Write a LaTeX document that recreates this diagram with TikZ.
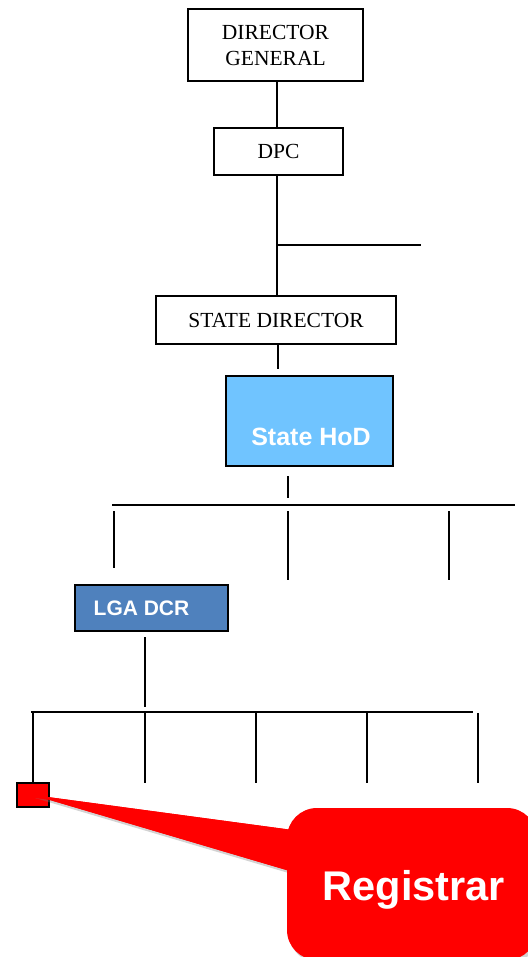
\documentclass[tikz,border=0pt]{standalone}
\usepackage{fontspec}
\setmainfont{Liberation Serif}
\newfontfamily\arialfont{Liberation Sans}
\usetikzlibrary{shadows}
\definecolor{hodblue}{HTML}{70C4FF}
\definecolor{lgablue}{HTML}{4F81BD}
\definecolor{callred}{HTML}{FF0000}
\begin{document}
\begin{tikzpicture}[x=1pt,y=-1pt,
  conn/.style={line width=1.6pt,black},
  tbox/.style={draw,line width=1.6pt,fill=white,inner sep=0pt,font=\fontsize{21.5}{26}\selectfont,align=center}]
\useasboundingbox (0,0) rectangle (527,957);
% top boxes
\node[tbox,minimum width=175pt,minimum height=72pt] (dg) at (275.5,45) {DIRECTOR\\GENERAL};
\node[tbox,minimum width=129pt,minimum height=47pt] (dpc) at (278.5,151.5) {DPC};
\node[tbox,minimum width=240pt,minimum height=48pt] (sd) at (276,320) {STATE DIRECTOR};
\draw[conn] (277,81) -- (277,128);
\coordinate (br) at (277,245);
\coordinate (brR) at (421,245);
\draw[conn] (277,175) -- (277,296);
\draw[conn] (br) -- (brR);
\coordinate (sdb) at (278,344);
\coordinate (sdc) at (278,369);
\draw[conn] (sdb) -- (sdc);
% State HoD
\node[draw,line width=2.2pt,fill=hodblue,minimum width=167pt,minimum height=90pt,inner sep=0pt] (hod) at (309.5,421) {};
\node[text=white,font=\arialfont\bfseries\fontsize{25}{27}\selectfont,inner sep=0pt] (hodt) at (311,437) {State HoD};
% level 2 bar
\coordinate (h1) at (288,476);
\coordinate (h2) at (288,498);
\draw[conn] (h1) -- (h2);
\coordinate (b1L) at (112,505);
\coordinate (b1R) at (515,505);
\draw[conn] (b1L) -- (b1R);
\coordinate (v1a) at (114,511); \coordinate (v1b) at (114,568);
\coordinate (v2a) at (288,511); \coordinate (v2b) at (288,580);
\coordinate (v3a) at (449,511); \coordinate (v3b) at (449,580);
\draw[conn] (v1a) -- (v1b);
\draw[conn] (v2a) -- (v2b);
\draw[conn] (v3a) -- (v3b);
% LGA DCR
\node[draw,line width=1.6pt,fill=lgablue,minimum width=153pt,minimum height=46pt,inner sep=0pt] (lga) at (151.5,608) {};
\node[text=white,font=\arialfont\bfseries\fontsize{21}{23}\selectfont,inner sep=0pt] (lgat) at (141.5,608) {LGA DCR};
\coordinate (l1) at (145,637);
\coordinate (l2) at (145,707);
\draw[conn] (l1) -- (l2);
\coordinate (b2L) at (31,712);
\coordinate (b2R) at (473,712);
\draw[conn] (b2L) -- (b2R);
\foreach \x/\n in {33/a,145/b,256/c,367/d,478/e}{
  \coordinate (t\n) at (\x,713);
  \coordinate (u\n) at (\x,783);
  \draw[conn] (t\n) -- (u\n);
}
% registrar small box
\node[draw,line width=1.6pt,fill=callred,minimum width=32pt,minimum height=24pt,inner sep=0pt] (reg) at (33,795) {};
% callout
\fill[callred,drop shadow={shadow xshift=2pt,shadow yshift=-3pt,opacity=0.35}]
  (reg.center) -- (300,831) -- (300,874) -- cycle;
\node[fill=callred,rounded corners=30pt,minimum width=250pt,minimum height=152pt,inner sep=0pt,
  drop shadow={shadow xshift=2pt,shadow yshift=-3pt,opacity=0.35}] (call) at (412,884) {};
\fill[callred] (reg.center) -- (300,831) -- (300,874) -- cycle;
\node[text=white,font=\arialfont\bfseries\fontsize{41.5}{44}\selectfont,inner sep=0pt] (callt) at (414,890) {Registrar};
\end{tikzpicture}
\end{document}
